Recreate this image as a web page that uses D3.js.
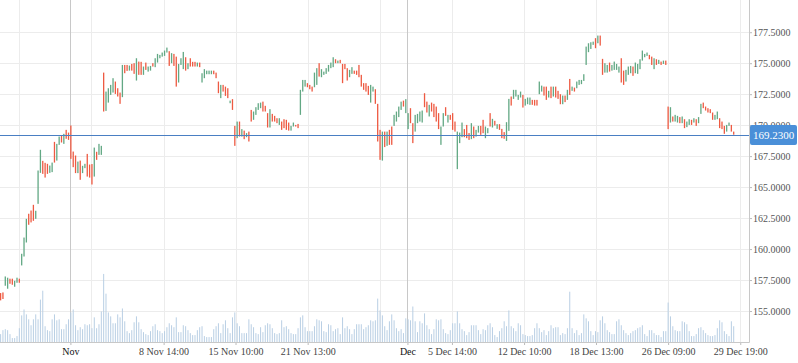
<!DOCTYPE html>
<html>
<head>
<meta charset="utf-8">
<script src="https://cdn.jsdelivr.net/npm/d3@7"></script>
<style>
body { margin: 0; background: #fff; }
</style>
</head>
<body>
<div id="viz"></div>
<script>
// hourly bars, 26 Oct - 29 Dec
var opens = [
156.45,156.50,157.04,156.80,157.61,157.61,156.96,157.28,157.61,158.68,
159.40,160.53,162.85,163.11,163.57,162.44,163.65,166.15,167.12,166.96,
166.88,166.15,166.21,168.65,167.14,168.41,169.16,168.49,169.62,169.40,
169.97,167.87,167.55,166.13,167.14,166.13,166.53,167.68,166.82,166.86,
165.85,167.85,167.60,167.60,174.24,171.15,171.82,172.44,172.63,173.52,
172.98,172.63,172.26,174.86,174.86,174.40,174.94,175.00,173.60,175.13,
175.11,174.06,175.05,174.32,174.40,175.00,174.68,175.05,175.40,175.53,
175.59,175.86,175.97,175.00,175.75,175.53,173.44,174.86,174.52,175.48,
174.52,175.40,175.11,175.11,174.73,175.05,173.44,173.79,174.11,174.11,
174.11,174.40,174.24,173.52,172.18,173.25,173.11,172.98,171.77,172.10,
169.94,168.95,170.29,169.08,169.56,169.03,169.48,171.23,170.43,170.83,
171.23,171.37,171.90,171.56,170.97,169.81,170.91,170.75,170.56,170.02,
170.29,170.48,170.43,170.21,169.56,169.89,170.02,170.10,170.83,172.71,
173.11,173.39,173.25,173.11,173.06,173.25,175.00,173.87,174.06,174.14,
174.32,174.60,174.68,175.32,175.00,175.27,174.94,174.94,174.60,173.87,
174.14,174.40,174.40,174.86,174.06,173.39,173.39,173.17,171.82,172.71,
172.90,171.72,169.62,167.14,169.48,168.33,169.62,169.89,169.94,170.29,
170.65,171.23,171.98,170.97,169.68,171.37,170.16,169.48,170.16,170.29,
170.21,172.58,171.90,170.70,171.82,171.72,171.50,170.97,168.41,169.89,
171.45,170.21,170.83,170.97,170.29,166.45,168.55,169.03,169.68,170.02,
169.36,168.87,169.89,169.08,169.40,169.94,170.43,168.95,169.35,170.97,
169.81,170.35,169.70,170.08,169.70,169.44,168.73,169.54,172.31,172.12,
172.31,172.04,172.23,172.44,171.58,171.69,171.64,172.04,172.04,172.04,
172.50,172.71,173.11,173.11,172.23,173.11,172.31,173.11,172.77,172.50,
171.69,172.39,172.04,173.73,172.77,173.03,172.98,173.25,173.31,173.57,
174.86,175.89,176.15,176.48,177.02,176.61,177.23,175.35,174.24,174.24,
175.05,174.40,174.46,174.46,174.24,175.40,174.40,173.52,174.06,174.19,
174.73,174.19,174.14,174.52,175.21,175.48,175.59,175.67,175.53,174.52,
175.32,174.94,175.13,174.94,175.21,171.50,170.21,170.70,170.29,170.21,
170.65,170.16,170.48,169.84,170.02,170.43,170.21,170.48,170.16,170.91,
171.82,171.50,171.37,171.29,171.02,170.43,170.48,170.56,170.29,169.94,
169.48,169.94,170.02,169.48
];

var closes = [
155.86,155.97,157.79,157.69,157.20,157.12,157.44,157.69,157.28,159.62,
160.93,162.44,161.96,162.15,162.28,163.09,166.34,168.01,166.07,165.77,
166.07,166.74,166.98,166.98,168.49,169.08,168.60,169.30,168.90,168.81,
167.28,166.61,166.13,167.06,165.59,166.72,166.88,165.85,165.77,165.21,
168.19,167.20,168.49,168.33,171.10,172.71,172.98,173.25,173.79,172.52,
172.31,171.72,174.86,174.19,174.38,174.81,174.40,174.14,175.40,174.06,
174.06,174.73,174.46,174.73,174.78,174.73,175.40,175.75,175.67,175.86,
176.02,176.26,174.78,175.81,174.78,173.11,174.94,175.40,175.91,174.40,
175.00,174.73,174.73,174.73,175.05,174.68,174.19,174.52,174.40,174.40,
174.40,174.11,173.79,172.58,173.25,172.71,172.36,172.18,171.98,171.23,
168.33,170.29,169.08,169.68,168.87,169.36,168.68,170.29,171.10,171.45,
171.77,171.82,171.10,171.10,169.81,171.29,170.29,170.29,170.16,170.56,
169.62,169.76,169.62,169.56,169.94,170.21,169.89,169.76,172.85,173.65,
173.65,173.06,172.90,172.71,174.24,174.60,173.92,174.52,174.32,174.60,
174.86,175.05,175.48,175.00,175.21,175.00,173.39,174.52,173.60,174.46,
174.68,174.14,174.06,173.87,173.11,172.85,172.71,172.44,173.25,173.11,
171.72,168.68,167.20,169.48,168.23,169.48,168.41,168.41,170.83,171.10,
171.50,171.90,171.50,172.10,170.97,170.16,168.55,170.83,170.91,171.10,
171.18,171.45,171.02,171.64,171.10,170.65,170.29,169.68,169.89,170.97,
170.75,170.83,170.43,169.62,169.48,169.48,169.40,170.21,169.03,168.95,
168.81,170.16,168.95,169.62,169.94,169.22,169.35,169.89,169.76,169.89,
170.51,169.97,170.08,169.62,168.95,168.90,170.24,172.12,171.58,172.85,
172.85,172.44,172.71,171.42,172.12,172.23,172.23,171.64,171.58,171.58,
173.52,173.19,172.39,172.04,172.77,172.18,173.11,172.23,172.12,171.69,
172.39,171.86,172.85,172.44,173.11,172.71,173.52,173.65,173.65,174.11,
176.34,176.61,176.69,176.74,176.21,177.23,176.42,174.06,175.00,174.86,
174.32,174.86,175.13,174.94,174.73,173.44,173.25,174.46,174.73,174.78,
173.98,175.05,174.94,175.32,176.02,175.75,175.86,175.32,174.86,175.40,
174.86,175.27,174.86,175.21,174.86,169.68,171.45,170.29,170.83,170.75,
170.16,170.70,169.76,170.29,170.48,170.02,170.56,169.94,170.65,171.72,
171.37,171.18,171.02,170.97,170.43,170.83,171.10,169.76,169.68,169.30,
170.02,170.21,169.48,169.23
];

// volume, millions of shares
var volumes = [
1.20,1.80,1.95,1.80,1.20,0.60,0.60,0.90,2.10,4.05,
4.95,4.20,3.45,2.55,3.45,4.20,3.45,6.45,7.80,2.40,
1.80,1.65,3.45,4.20,3.30,3.45,1.95,1.95,2.70,3.45,
4.50,4.95,2.55,1.80,2.25,1.95,2.70,2.55,2.70,2.10,
3.75,2.10,2.70,4.65,10.35,7.35,4.50,3.90,2.85,2.85,
4.20,3.75,5.10,3.15,1.65,1.35,1.80,3.00,3.90,3.00,
1.95,1.50,1.20,1.05,1.65,2.40,2.70,1.80,1.65,1.35,
1.65,2.25,2.85,2.55,2.25,3.75,1.50,1.50,2.55,2.40,
1.80,1.35,1.05,1.05,1.80,2.25,2.40,0.90,0.75,0.75,
0.75,1.95,2.40,2.85,1.35,2.70,3.30,2.10,1.35,3.75,
4.50,2.85,2.40,1.35,1.35,1.35,3.45,2.70,2.25,1.35,
1.20,2.25,1.50,2.55,2.85,2.70,
2.10,1.35,1.20,1.35,3.30,2.25,2.40,1.95,1.35,1.20,
1.20,2.10,3.75,4.05,2.25,1.65,1.65,1.65,2.40,3.45,
3.30,3.15,1.65,1.50,2.70,2.55,1.65,1.95,2.10,1.20,
3.75,2.10,2.40,1.95,1.20,1.95,2.70,2.70,2.70,1.95,
2.25,2.55,3.30,3.15,3.30,6.60,4.80,4.05,2.40,1.80,
3.15,4.20,3.30,2.10,1.65,1.95,1.35,3.60,3.45,3.30,
5.40,3.15,1.50,3.15,2.85,4.35,2.55,1.95,1.20,1.95,
3.45,3.30,3.45,1.95,1.35,1.20,1.80,2.85,2.85,4.65,
2.85,1.95,1.65,1.05,1.50,2.55,2.55,2.55,1.80,1.20,
1.95,1.80,2.55,2.85,2.25,1.05,0.75,1.65,2.10,3.15,
2.40,4.80,2.40,2.10,1.65,2.85,2.55,1.20,1.05,0.90,
0.90,1.05,2.10,2.85,2.10,1.50,1.80,1.05,1.65,2.55,
2.10,2.25,2.25,1.05,1.35,1.20,2.10,7.65,2.10,1.35,
1.80,1.05,1.35,4.20,3.60,3.15,1.65,1.05,1.65,1.50,
3.30,3.90,2.85,1.80,1.50,1.20,1.20,3.15,3.45,2.55,
1.80,1.35,1.05,1.35,1.65,1.80,2.10,2.25,2.55,1.20,
0.90,1.80,1.80,1.35,1.05,1.05,0.75,1.65,1.65,6.00,
3.90,2.40,1.80,1.65,1.65,3.15,3.00,2.70,1.65,0.90,
0.90,1.20,2.10,2.25,1.80,1.35,1.05,0.90,0.90,1.05,
2.10,3.30,3.00,1.65,1.20,0.90,3.15,2.40
];

var priceTicks = [155, 157.5, 160, 162.5, 165, 167.5, 170, 172.5, 175, 177.5];

// time grid, in bar positions
var gridTicks = [8, 38.8, 69.6, 100.3, 131.1, 161.9, 192.7, 223.5, 254.2, 285, 315.8];
var gridLabels = ["", "", "8 Nov 14:00", "15 Nov 10:00", "21 Nov 13:00", "", "5 Dec 14:00", "12 Dec 10:00", "18 Dec 13:00", "26 Dec 09:00", "29 Dec 19:00"];
var monthTicks = [29.8, 173.7];
var monthLabels = ["Nov", "Dec"];

var lastPrice = 169.23;

var width = 798, height = 363;
var plotW = 749, plotH = 342;
var font = "'Liberation Serif', 'Times New Roman', serif";

var svg = d3.select("#viz")
    .append("svg")
    .attr("width", width)
    .attr("height", height)
    .style("display", "block");

var x = d3.scaleLinear().domain([0, opens.length - 1]).range([0.6, 733.7]);
var y = d3.scaleLinear().domain([152.5, 180.1]).range([plotH, 0]);
var vol = d3.scaleLinear().domain([0, 52]).range([plotH, 0]);

function px(v) { return Math.round(v) + 0.5; }

// grid
svg.append("g").selectAll("line")
    .data(priceTicks)
    .enter().append("line")
    .attr("x1", 0).attr("x2", plotW)
    .attr("y1", function(d) { return px(y(d)); })
    .attr("y2", function(d) { return px(y(d)); })
    .attr("stroke", "#ececec");

svg.append("g").selectAll("line")
    .data(gridTicks)
    .enter().append("line")
    .attr("x1", function(d) { return px(x(d)); })
    .attr("x2", function(d) { return px(x(d)); })
    .attr("y1", 0).attr("y2", plotH)
    .attr("stroke", "#ececec");

svg.append("g").selectAll("line")
    .data(monthTicks)
    .enter().append("line")
    .attr("x1", function(d) { return px(x(d)); })
    .attr("x2", function(d) { return px(x(d)); })
    .attr("y1", 0).attr("y2", plotH)
    .attr("stroke", "#c8c8c8");

// volume
svg.append("g").selectAll("rect")
    .data(volumes)
    .enter().append("rect")
    .attr("x", function(d, i) { return x(i) - 0.5; })
    .attr("width", 1)
    .attr("y", function(d) { return vol(d); })
    .attr("height", function(d) { return plotH - vol(d); })
    .attr("fill", "#b9cfe4");

// candles
var bars = opens.map(function(o, i) { return {i: i, o: o, c: closes[i]}; });

svg.append("g").selectAll("rect")
    .data(bars)
    .enter().append("rect")
    .attr("x", function(d) { return x(d.i) - 0.65; })
    .attr("width", 1.3)
    .attr("y", function(d) { return y(Math.max(d.o, d.c)); })
    .attr("height", function(d) { return Math.max(1, Math.abs(y(d.o) - y(d.c))); })
    .attr("fill", function(d) { return d.c >= d.o ? "#62a884" : "#ee5a42"; });

// last price line
svg.append("line")
    .attr("x1", 0).attr("x2", plotW)
    .attr("y1", px(y(lastPrice))).attr("y2", px(y(lastPrice)))
    .attr("stroke", "#4a7fc3");

// axes
var yAxis = d3.axisRight(y)
    .tickValues(priceTicks)
    .tickSize(3)
    .tickSizeOuter(0)
    .tickPadding(1)
    .tickFormat(d3.format(".4f"));

var gy = svg.append("g")
    .attr("transform", "translate(" + plotW + ",0)")
    .call(yAxis);
gy.select(".domain").remove();
gy.selectAll("line").attr("stroke", "#bbb");
gy.selectAll("text").attr("fill", "#555").style("font-family", font).style("font-size", "10px");

var labelled = gridTicks.filter(function(d, i) { return gridLabels[i] !== ""; });
var labelText = gridLabels.filter(function(d) { return d !== ""; });

var gx = svg.append("g")
    .attr("transform", "translate(0," + plotH + ")")
    .call(d3.axisBottom(x)
        .tickValues(labelled)
        .tickSize(3)
        .tickSizeOuter(0)
        .tickFormat(function(d, i) { return labelText[i]; }));
gx.select(".domain").remove();
gx.selectAll("line").attr("stroke", "#bbb");
gx.selectAll("text").attr("fill", "#444").style("font-family", font).style("font-size", "10px");

var gm = svg.append("g")
    .attr("transform", "translate(0," + plotH + ")")
    .call(d3.axisBottom(x)
        .tickValues(monthTicks)
        .tickSize(3)
        .tickSizeOuter(0)
        .tickFormat(function(d, i) { return monthLabels[i]; }));
gm.select(".domain").remove();
gm.selectAll("line").attr("stroke", "#bbb");
gm.selectAll("text").attr("fill", "#111").style("font-family", font).style("font-size", "10px");

svg.append("line")
    .attr("x1", 0).attr("x2", plotW + 0.5)
    .attr("y1", plotH + 0.5).attr("y2", plotH + 0.5)
    .attr("stroke", "#c8c8c8");
svg.append("line")
    .attr("x1", plotW + 0.5).attr("x2", plotW + 0.5)
    .attr("y1", 0).attr("y2", plotH + 0.5)
    .attr("stroke", "#c8c8c8");

// last price tag
var tagY = y(lastPrice);
svg.append("rect")
    .attr("x", plotW + 1).attr("y", Math.round(tagY) - 10)
    .attr("width", 47).attr("height", 20)
    .attr("rx", 2)
    .attr("fill", "#4a8fd8");
svg.append("text")
    .attr("x", plotW + 24.5).attr("y", tagY)
    .attr("dy", "0.35em")
    .attr("text-anchor", "middle")
    .attr("fill", "#fff")
    .style("font-family", font)
    .style("font-size", "11px")
    .text(d3.format(".4f")(lastPrice));
</script>
</body>
</html>
